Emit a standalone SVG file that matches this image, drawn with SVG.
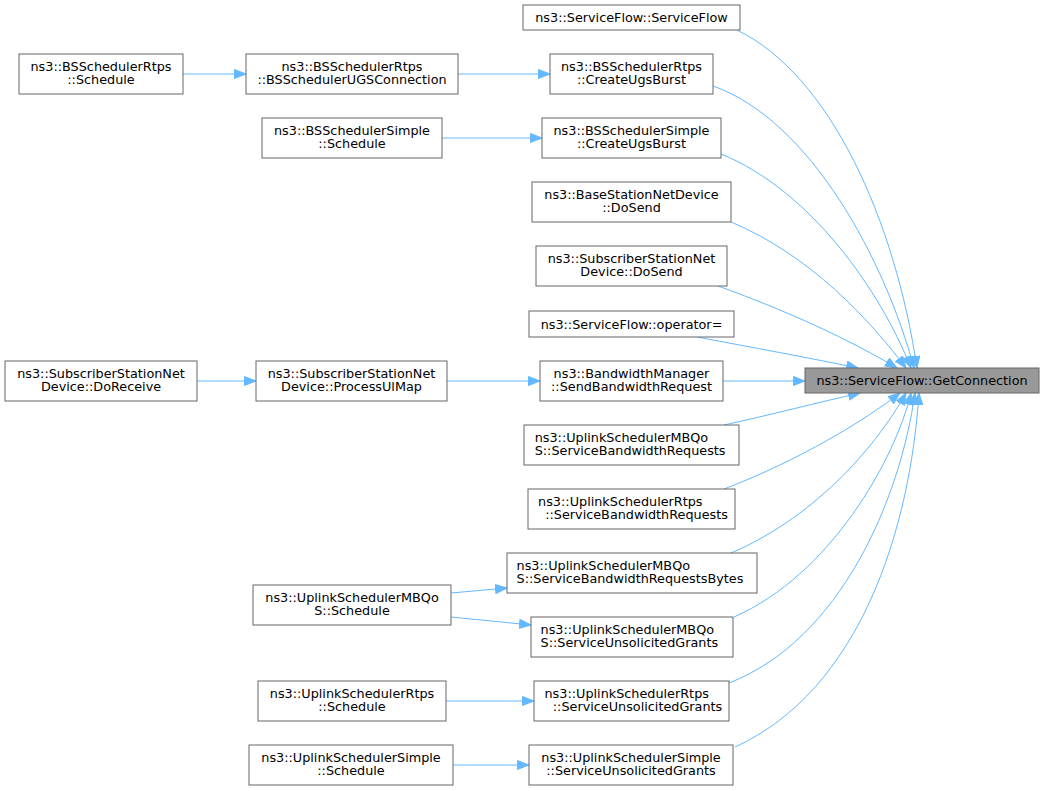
<svg xmlns="http://www.w3.org/2000/svg" width="1045" height="791" viewBox="0 0 1045 791">
<defs>
<style>
.n rect{fill:#ffffff;stroke:#666666;stroke-width:1}
#n0 rect{fill:#999999}
text{font-family:"DejaVu Sans","Liberation Sans",sans-serif;font-size:12.8px;fill:#000000}
.c{text-anchor:middle}
.e path{fill:none;stroke:#63b8ff;stroke-width:1;marker-end:url(#ah)}
</style>
<marker id="ah" markerUnits="userSpaceOnUse" markerWidth="14" markerHeight="11" refX="12" refY="5" orient="auto">
<path d="M0.5,0.5 L12,5 L0.5,9.5 z" fill="#63b8ff" stroke="#63b8ff" stroke-width="1"/>
</marker>
</defs>
<rect width="1045" height="791" fill="#ffffff"/>
<g id="edges" class="e">
<path d="M737,30 C830,75 895,220 917,368"/>
<path d="M713,86 C810,120 885,260 914,368"/>
<path d="M721,154 C810,190 880,290 911,368"/>
<path d="M731,222 C810,255 870,320 906,368"/>
<path d="M718,286 C790,312 850,340 897,368"/>
<path d="M697,337 C750,347 810,358 858,368"/>
<path d="M723,381 L805,381"/>
<path d="M724,425 C770,415 820,402 860,393"/>
<path d="M724,489 C800,460 865,420 900,393"/>
<path d="M731,553 C820,515 880,440 906,393"/>
<path d="M734,617 C830,575 895,460 911,393"/>
<path d="M729,683 C840,640 900,500 915,393"/>
<path d="M735,747 C860,690 910,530 919,393"/>
<path d="M183,74 L246,74"/>
<path d="M458,74 L550,74"/>
<path d="M442,138 L542,138"/>
<path d="M197,381 L256,381"/>
<path d="M447,381 L540,381"/>
<path d="M451,593 L507,588"/>
<path d="M451,617 L531,625"/>
<path d="M446,701 L534,701"/>
<path d="M453,765 L529,765"/>
</g>
<g id="n0" class="n"><rect x="805" y="368" width="234" height="25"/><text class="c" x="922" y="385">ns3::ServiceFlow::GetConnection</text></g>
<g id="n1" class="n"><rect x="523" y="5" width="217" height="25"/><text class="c" x="631.5" y="22">ns3::ServiceFlow::ServiceFlow</text></g>
<g id="n2" class="n"><rect x="550" y="54" width="163" height="40"/><text class="c" x="631.5" y="70.5">ns3::BSSchedulerRtps</text><text class="c" x="631.5" y="84">::CreateUgsBurst</text></g>
<g id="n3" class="n"><rect x="542" y="118" width="179" height="40"/><text class="c" x="631.5" y="134.5">ns3::BSSchedulerSimple</text><text class="c" x="631.5" y="148">::CreateUgsBurst</text></g>
<g id="n4" class="n"><rect x="19" y="54" width="164" height="40"/><text class="c" x="101" y="70.5">ns3::BSSchedulerRtps</text><text class="c" x="101" y="84">::Schedule</text></g>
<g id="n5" class="n"><rect x="246" y="54" width="212" height="40"/><text class="c" x="352" y="70.5">ns3::BSSchedulerRtps</text><text class="c" x="352" y="84">::BSSchedulerUGSConnection</text></g>
<g id="n6" class="n"><rect x="262" y="118" width="180" height="40"/><text class="c" x="352" y="134.5">ns3::BSSchedulerSimple</text><text class="c" x="352" y="148">::Schedule</text></g>
<g id="n7" class="n"><rect x="532" y="182" width="199" height="40"/><text class="c" x="631.5" y="198.5">ns3::BaseStationNetDevice</text><text class="c" x="631.5" y="212">::DoSend</text></g>
<g id="n8" class="n"><rect x="536" y="246" width="191" height="40"/><text class="c" x="631.5" y="262.5">ns3::SubscriberStationNet</text><text class="c" x="631.5" y="276">Device::DoSend</text></g>
<g id="n9" class="n"><rect x="529" y="311" width="205" height="26"/><text class="c" x="631.5" y="328.5">ns3::ServiceFlow::operator=</text></g>
<g id="n10" class="n"><rect x="540" y="361" width="183" height="40"/><text class="c" x="631.5" y="377.5">ns3::BandwidthManager</text><text class="c" x="631.5" y="391">::SendBandwidthRequest</text></g>
<g id="n11" class="n"><rect x="256" y="361" width="191" height="40"/><text class="c" x="351.5" y="377.5">ns3::SubscriberStationNet</text><text class="c" x="351.5" y="391">Device::ProcessUlMap</text></g>
<g id="n12" class="n"><rect x="5" y="361" width="192" height="40"/><text class="c" x="101" y="377.5">ns3::SubscriberStationNet</text><text class="c" x="101" y="391">Device::DoReceive</text></g>
<g id="n13" class="n"><rect x="524" y="425" width="215" height="40"/><text x="534.7" y="441.5">ns3::UplinkSchedulerMBQo</text><text x="534.7" y="455">S::ServiceBandwidthRequests</text></g>
<g id="n14" class="n"><rect x="528" y="489" width="207" height="40"/><text x="538.1" y="505.5">ns3::UplinkSchedulerRtps</text><text x="545.2" y="519">::ServiceBandwidthRequests</text></g>
<g id="n15" class="n"><rect x="507" y="553" width="250" height="40"/><text x="516.6" y="569.5">ns3::UplinkSchedulerMBQo</text><text x="516.6" y="583">S::ServiceBandwidthRequestsBytes</text></g>
<g id="n16" class="n"><rect x="253" y="585" width="198" height="40"/><text class="c" x="352" y="601.5">ns3::UplinkSchedulerMBQo</text><text class="c" x="352" y="615">S::Schedule</text></g>
<g id="n17" class="n"><rect x="531" y="617" width="202" height="40"/><text x="540.6" y="633.5">ns3::UplinkSchedulerMBQo</text><text x="540.6" y="647">S::ServiceUnsolicitedGrants</text></g>
<g id="n18" class="n"><rect x="258" y="681" width="188" height="40"/><text class="c" x="352" y="697.5">ns3::UplinkSchedulerRtps</text><text class="c" x="352" y="711">::Schedule</text></g>
<g id="n19" class="n"><rect x="534" y="681" width="195" height="40"/><text x="544.5" y="697.5">ns3::UplinkSchedulerRtps</text><text x="552.8" y="711">::ServiceUnsolicitedGrants</text></g>
<g id="n20" class="n"><rect x="249" y="745" width="204" height="40"/><text class="c" x="351" y="761.5">ns3::UplinkSchedulerSimple</text><text class="c" x="351" y="775">::Schedule</text></g>
<g id="n21" class="n"><rect x="529" y="745" width="204" height="40"/><text class="c" x="631" y="761.5">ns3::UplinkSchedulerSimple</text><text class="c" x="631" y="775">::ServiceUnsolicitedGrants</text></g>
</svg>
